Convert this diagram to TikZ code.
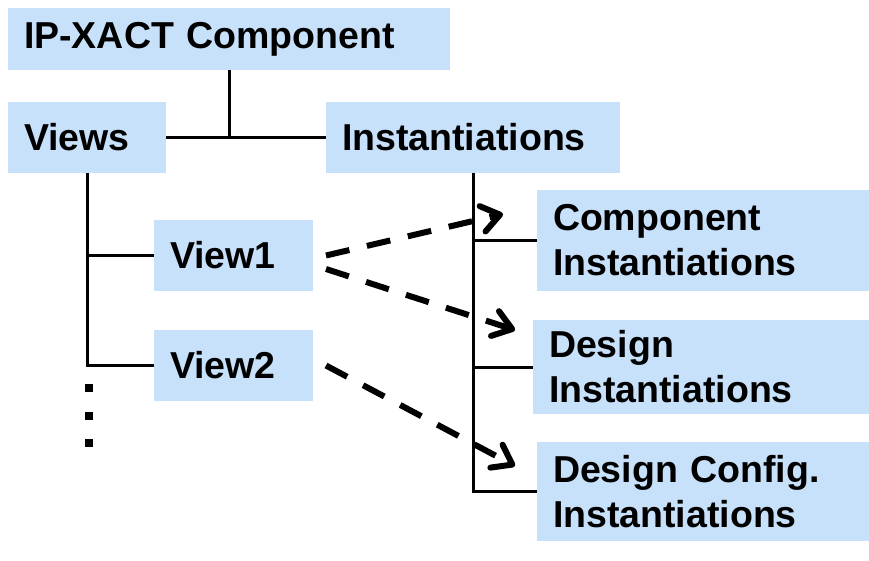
\documentclass[tikz,border=0pt]{standalone}
\usepackage{fontspec}
\setmainfont{Liberation Sans}
\usetikzlibrary{arrows.meta,calc}
\definecolor{boxblue}{RGB}{199,225,251}
\begin{document}
\begin{tikzpicture}[x=1pt,y=-1pt,
  box/.style={fill=boxblue, draw=none, anchor=north west, inner xsep=16pt, inner ysep=0pt,
    outer sep=0pt, align=left, font=\bfseries\fontsize{37.5}{45}\selectfont},
  tree/.style={line width=3pt},
  dotmark/.style={fill=black, minimum size=7.5pt, inner sep=0pt, outer sep=0pt},
  link/.style={line width=6pt, dash pattern=on 24pt off 18pt,
    -{Straight Barb[length=18pt,width=26pt,round]}}]
\useasboundingbox (0,0) rectangle (869,560);
\node[box, text width=410pt, minimum height=62pt] (ipx) at (8,8) {IP-XACT Component};
\node[box, text width=126pt, minimum height=71pt] (views) at (8,102) {Views};
\node[box, text width=262pt, minimum height=71pt] (inst) at (326,102) {Instantiations};
\node[box, text width=127pt, minimum height=71pt] (view1) at (154,220) {View1};
\node[box, text width=127pt, minimum height=71pt] (view2) at (154,330) {View2};
\node[box, text width=300pt, minimum height=101pt] (comp) at (537,190) {Component\\Instantiations};
\node[box, text width=304pt, minimum height=94pt] (des) at (533,320) {Design\\Instantiations};
\node[box, text width=300pt, minimum height=99pt] (cfg) at (537,442) {Design Config.\\Instantiations};
% tree lines
\draw[tree] (ipx.south) -- (ipx.south |- views.east);
\draw[tree] (views.east) -- (inst.west);
\draw[tree] (views.south) -- (views.south |- view2.west) -- (view2.west);
\draw[tree] (views.south |- view1.west) -- (view1.west);
\draw[tree] (inst.south) -- (inst.south |- cfg.west) -- (cfg.west);
\draw[tree] (inst.south |- comp.west) -- (comp.west);
\draw[tree] (inst.south |- des.west) -- (des.west);
% dots
\node[dotmark] (d1) at (89,388) {};
\node[dotmark] (d2) at (89,416) {};
\node[dotmark] (d3) at (89,443) {};
% dashed arrows
\coordinate (a1s) at ($(view1.east)+(13,0)$);
\coordinate (a1e) at ($(comp.west)+(-34,-26.5)$);
\coordinate (a2s) at ($(view1.east)+(13,13.5)$);
\coordinate (a2e) at ($(des.west)+(-18,-37)$);
\coordinate (a3s) at ($(view2.east)+(13,0)$);
\coordinate (a3e) at ($(cfg.west)+(-22,-25.5)$);
\draw[link] (a1s) -- (a1e);
\draw[link] (a2s) -- (a2e);
\draw[link] (a3s) -- (a3e);
\end{tikzpicture}
\end{document}
